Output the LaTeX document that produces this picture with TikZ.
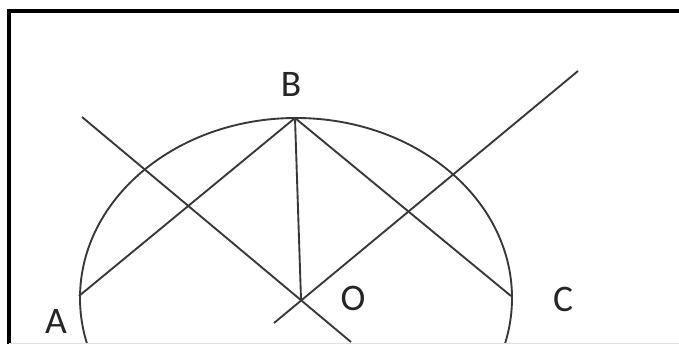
\documentclass[tikz,border=0pt]{standalone}
\usepackage{fontspec}
\setmainfont{Carlito}
\begin{document}
\begin{tikzpicture}[x=0.03cm,y=-0.03cm,
  geo/.style={draw=black!78,line width=1.6pt},
  lbl/.style={font=\fontsize{32}{36}\selectfont,text=black!85,inner sep=0pt}]
\useasboundingbox (0,0) rectangle (679,345);
\fill[white] (0,0) rectangle (679,345);
\begin{scope}
\clip (0,0) rectangle (679,343);
% frame
\draw[line width=2.6pt] (9,345) -- (9,11) -- (680,11);
% points
\coordinate (B) at (295,118);
\coordinate (A) at (79,296);
\coordinate (C) at (511,296);
\coordinate (O) at (301,299);
\coordinate (P1) at (82,117);
\coordinate (P2) at (351,342);
\coordinate (Q1) at (578,71);
\coordinate (Q2) at (274,323);
\coordinate (E) at (296,298);
% circle
\draw[geo] (E) ellipse [x radius=6.48cm, y radius=5.4cm];
% chords and lines
\draw[geo] (A) -- (B) -- (C);
\draw[geo] (B) -- (O);
\draw[geo] (P1) -- (P2);
\draw[geo] (Q1) -- (Q2);
\end{scope}
\draw[black!12,line width=0.6pt] (9,343.5) -- (679,343.5);
% labels
\node[lbl] (lB) at (291,84) {B};
\node[lbl] (lA) at (56,321) {A};
\node[lbl] (lO) at (353,298) {O};
\node[lbl] (lC) at (563,299) {C};
\end{tikzpicture}
\end{document}
